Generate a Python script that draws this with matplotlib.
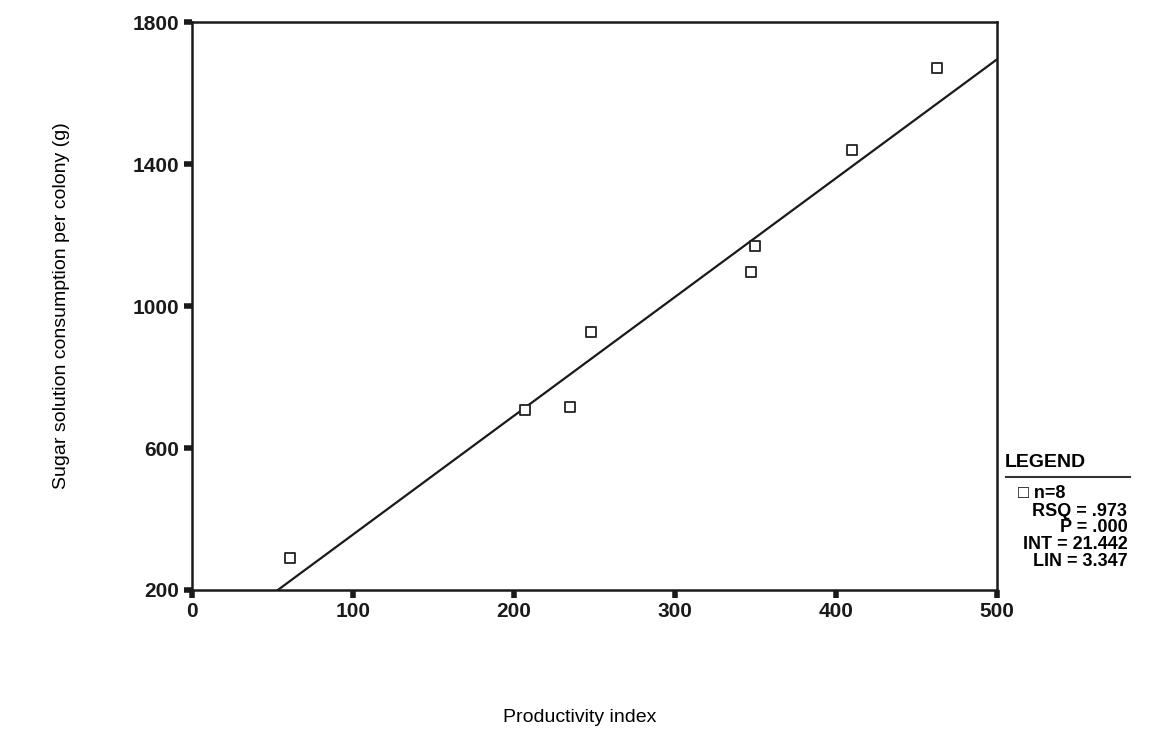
import numpy as np
import matplotlib.pyplot as plt

plt.rcParams['font.family'] = ['Liberation Sans', 'DejaVu Sans']

# Productivity index vs sugar consumption, one point per colony
productivity = np.array([61, 207, 235, 248, 347, 350, 410, 463])
consumption = np.array([290, 707, 715, 927, 1096, 1169, 1439, 1670])

# fitted line from the regression summary
intercept = 21.442
slope = 3.347
legend_lines = ["RSQ = .973", "P = .000", "INT = 21.442", "LIN = 3.347"]

fig = plt.figure(figsize=(11.67, 7.29), dpi=100)
ax = fig.add_axes([0.1645, 0.1907, 0.6898, 0.779])

xfit = np.linspace(0, 500, 200)
ax.plot(xfit, intercept + slope * xfit, color='#1a1a1a', lw=1.6)
ax.scatter(productivity, consumption, marker='s', s=55, facecolors='white',
           edgecolors='#222222', linewidths=1.3, zorder=3)

ax.set_xlim(0, 500)
ax.set_ylim(200, 1800)
ax.set_xticks([0, 100, 200, 300, 400, 500])
ax.set_yticks([200, 600, 1000, 1400, 1800])
for s in ax.spines.values():
    s.set_linewidth(1.8)
    s.set_color('#1a1a1a')
ax.tick_params(direction='out', length=6, width=4, labelsize=15, pad=3,
               colors='#1a1a1a')
for lab in ax.get_xticklabels() + ax.get_yticklabels():
    lab.set_fontweight('bold')

fig.text(0.497, 0.004, 'Productivity index', fontsize=14, ha='center', va='bottom')
ax.set_ylabel('Sugar solution consumption per colony (g)', fontsize=14, labelpad=45)

# legend block to the right of the plot
fig.text(0.861, 0.366, 'LEGEND', fontsize=14, fontweight='bold', ha='left', va='center')
fig.add_artist(plt.Line2D([0.862, 0.968], [0.345, 0.345], color='#333333', lw=1.5))
fig.text(0.872, 0.323, '\u25a1 n=8', fontsize=13, fontweight='bold', ha='left', va='center')
ys = [0.299, 0.276, 0.253, 0.230]
for txt, yy in zip(legend_lines, ys):
    fig.text(0.966, yy, txt, fontsize=13, fontweight='bold', ha='right', va='center')

fig.savefig('out.png', dpi=100)
